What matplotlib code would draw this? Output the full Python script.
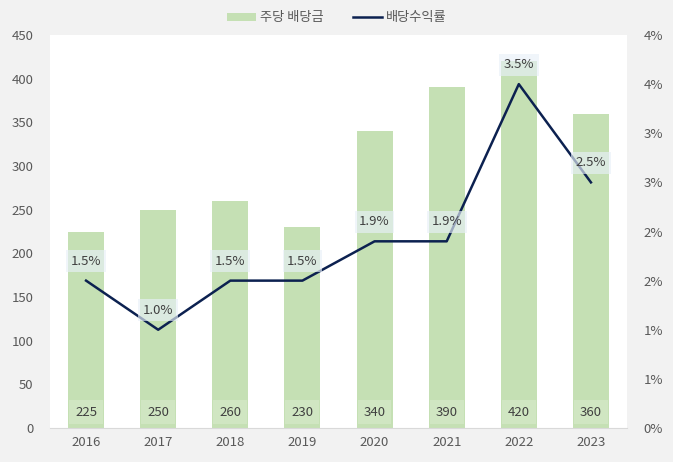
import numpy as np
import matplotlib.pyplot as plt
from matplotlib.ticker import FuncFormatter

plt.rcParams['font.family'] = ['Noto Sans CJK KR', 'DejaVu Sans']

years = ['2016', '2017', '2018', '2019', '2020', '2021', '2022', '2023']
dps = [225, 250, 260, 230, 340, 390, 420, 360]            # 주당 배당금
yld = [1.5, 1.0, 1.5, 1.5, 1.9, 1.9, 3.5, 2.5]            # 배당수익률 (%)

bar_c = '#c5e0b4'
line_c = '#0c2150'
txt_c = '#404040'
tick_c = '#595959'

fig = plt.figure(figsize=(6.73, 4.62), dpi=100, facecolor='#f2f2f2')
ax = fig.add_axes([50/673, 1-428/462, 577/673, 393/462])
ax.set_facecolor('white')
x = np.arange(len(years))

bars = ax.bar(x, dps, width=0.5, color=bar_c, label='주당 배당금', zorder=1)
ax.set_xlim(-0.5, len(years)-0.5)
ax.set_ylim(0, 450)
ax.set_yticks(np.arange(0, 451, 50))
ax.set_xticks(x)
ax.set_xticklabels(years)
for s in ['top', 'left', 'right']:
    ax.spines[s].set_visible(False)
ax.spines['bottom'].set_color('#d9d9d9')
ax.tick_params(length=0, labelsize=9.5, colors=tick_c, pad=6)
ax.tick_params(axis='y', pad=12)

# bar value labels at bottom
for xi, v in zip(x, dps):
    ax.annotate(str(v), (xi, 0), xytext=(0, 11.5), textcoords='offset points',
                ha='center', va='center', fontsize=9.5, color=txt_c, zorder=3,
                bbox=dict(boxstyle='square,pad=0.45', fc='white', alpha=0.2, ec='none'))

ax2 = ax.twinx()
ax2.plot(x, yld, color=line_c, lw=1.8, label='배당수익률', zorder=2)
ax2.set_ylim(0, 4)
ax2.set_yticks(np.arange(0, 4.01, 0.5))
ax2.yaxis.set_major_formatter(FuncFormatter(lambda v, p: f'{int(np.floor(v + 0.5))}%'))
for s in ['top', 'left', 'right', 'bottom']:
    ax2.spines[s].set_visible(False)
ax2.tick_params(length=0, labelsize=9.5, colors=tick_c, pad=12)

for xi, v in zip(x, yld):
    ax2.annotate(f'{v:.1f}%', (xi, v), xytext=(0, 14), textcoords='offset points',
                 ha='center', va='center', fontsize=9.5, color=txt_c, zorder=4,
                 bbox=dict(boxstyle='square,pad=0.35', fc='#e8f0f8', alpha=0.65, ec='none'))

h1, l1 = ax.get_legend_handles_labels()
h2, l2 = ax2.get_legend_handles_labels()
fig.legend(h1 + h2, l1 + l2, loc='center', bbox_to_anchor=(0.5, 1-18/462), ncol=2,
           frameon=False, fontsize=9.5, labelcolor=tick_c, handlelength=2.2,
           handleheight=0.6, handletextpad=0.3, columnspacing=2.2)

fig.savefig('out.png', dpi=100, facecolor=fig.get_facecolor())
